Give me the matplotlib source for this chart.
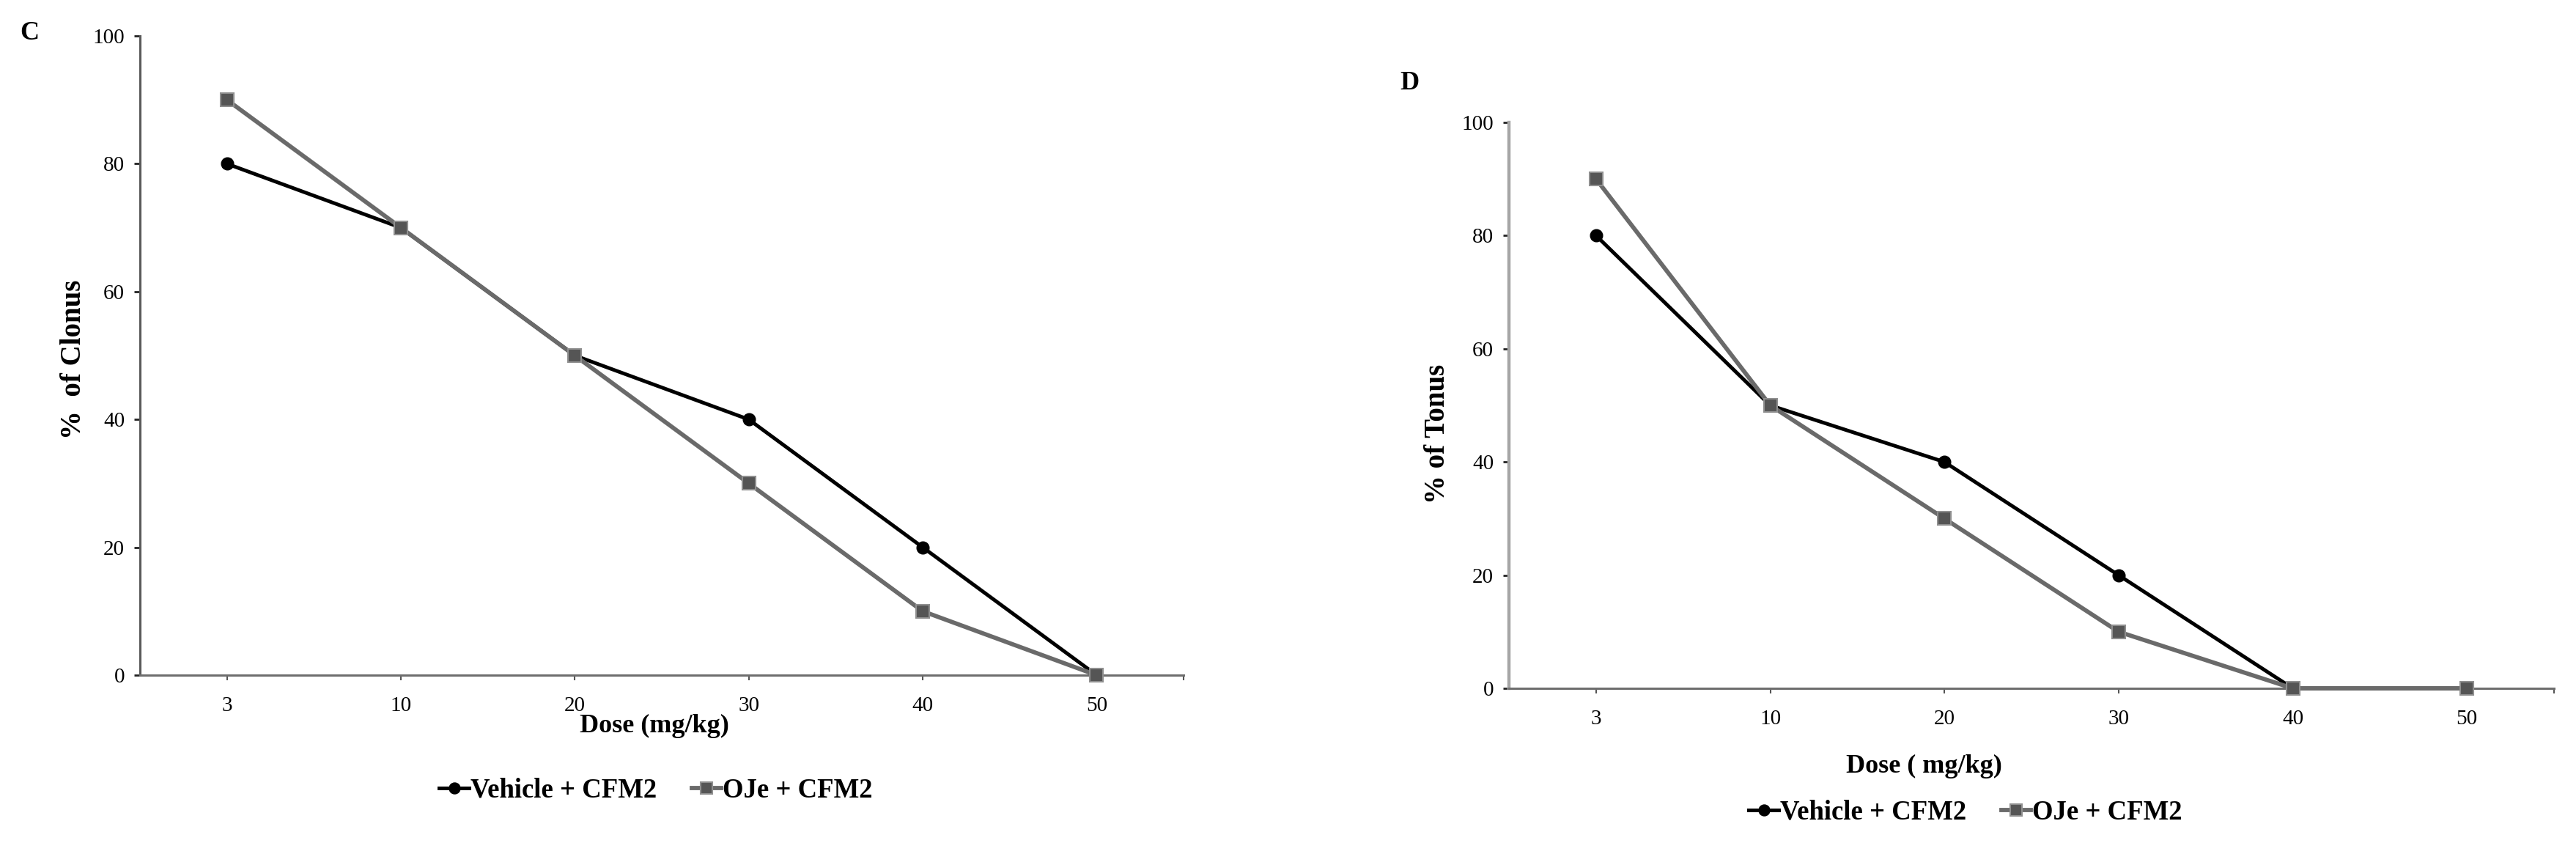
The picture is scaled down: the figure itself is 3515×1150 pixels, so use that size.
import numpy as np
import matplotlib
matplotlib.use('Agg')
import matplotlib.pyplot as plt

plt.rcParams['font.family'] = ['Liberation Serif', 'DejaVu Serif']

# Data
doses = ['3', '10', '20', '30', '40', '50']
clonus_vehicle = [80, 70, 50, 40, 20, 0]
clonus_oje = [90, 70, 50, 30, 10, 0]
tonus_vehicle = [80, 50, 40, 20, 0, 0]
tonus_oje = [90, 50, 30, 10, 0, 0]
y_ticks = [0, 20, 40, 60, 80, 100]

W, H = 3516, 1150
fig = plt.figure(figsize=(W / 100, H / 100), dpi=100)


def px_axes(left, top, right, bottom):
    return fig.add_axes([left / W, 1 - bottom / H, (right - left) / W, (bottom - top) / H])


def style_axis(ax, ycolor, ywidth):
    x = np.arange(len(doses))
    ax.set_xlim(-0.5, len(doses) - 0.5)
    ax.set_ylim(0, 100)
    ax.set_yticks(y_ticks)
    ax.set_xticks(x)
    ax.set_xticklabels(doses)
    ax.set_xticks([len(doses) - 0.5], minor=True)
    for s in ['top', 'right']:
        ax.spines[s].set_visible(False)
    ax.spines['left'].set_color(ycolor)
    ax.spines['left'].set_linewidth(ywidth)
    ax.spines['bottom'].set_color('#6e6e6e')
    ax.spines['bottom'].set_linewidth(2.2)
    ax.tick_params(axis='y', direction='out', length=6, width=2, color='#222222',
                   labelsize=21, pad=9)
    ax.tick_params(axis='x', which='both', direction='out', length=5, width=1.5,
                   color='#555555', labelsize=21, pad=16)
    ax.patch.set_visible(False)


def draw_series(ax, veh, oje):
    x = np.arange(len(doses))
    l1, = ax.plot(x, veh, color='black', linewidth=3.6, marker='o', markersize=12,
                  markerfacecolor='black', markeredgecolor='black',
                  label='Vehicle + CFM2', clip_on=False, zorder=3)
    l2, = ax.plot(x, oje, color='#6a6a6a', linewidth=4.2, marker='s', markersize=12.5,
                  markerfacecolor='#555555', markeredgecolor='#8f8f8f', markeredgewidth=1.5,
                  label='OJe + CFM2', clip_on=False, zorder=4)
    return l1, l2


def add_legend(handles, cx, cy):
    fig.legend(handles=handles, loc='center', bbox_to_anchor=(cx / W, 1 - cy / H), ncol=2,
               frameon=False, prop={'size': 26.5, 'weight': 'bold'}, handlelength=1.1,
               handletextpad=0.05, columnspacing=1.3, borderpad=0, markerscale=0.9)


# Panel C
axc = px_axes(191, 49, 1615, 921)
style_axis(axc, '#5a5a5a', 2.2)
hc = draw_series(axc, clonus_vehicle, clonus_oje)
fig.text(40 / W, 1 - 45 / H, 'C', fontsize=26, fontweight='bold', ha='center', va='center')
fig.text(101 / W, 1 - 490 / H, '%  of Clonus', fontsize=28, fontweight='bold',
         rotation=90, ha='center', va='center')
fig.text(893 / W, 1 - 990 / H, 'Dose (mg/kg)', fontsize=26, fontweight='bold',
         ha='center', va='center')
add_legend(hc, 895, 1078)

# Panel D
axd = px_axes(2059, 167, 3485, 939)
style_axis(axd, '#a6a6a6', 3.2)
hd = draw_series(axd, tonus_vehicle, tonus_oje)
fig.text(1923 / W, 1 - 113 / H, 'D', fontsize=26, fontweight='bold', ha='center', va='center')
fig.text(1962 / W, 1 - 592 / H, '% of Tonus', fontsize=28, fontweight='bold',
         rotation=90, ha='center', va='center')
fig.text(2625 / W, 1 - 1045 / H, 'Dose ( mg/kg)', fontsize=26, fontweight='bold',
         ha='center', va='center')
add_legend(hd, 2682, 1108)

fig.savefig('out.png', dpi=100, facecolor='white')
